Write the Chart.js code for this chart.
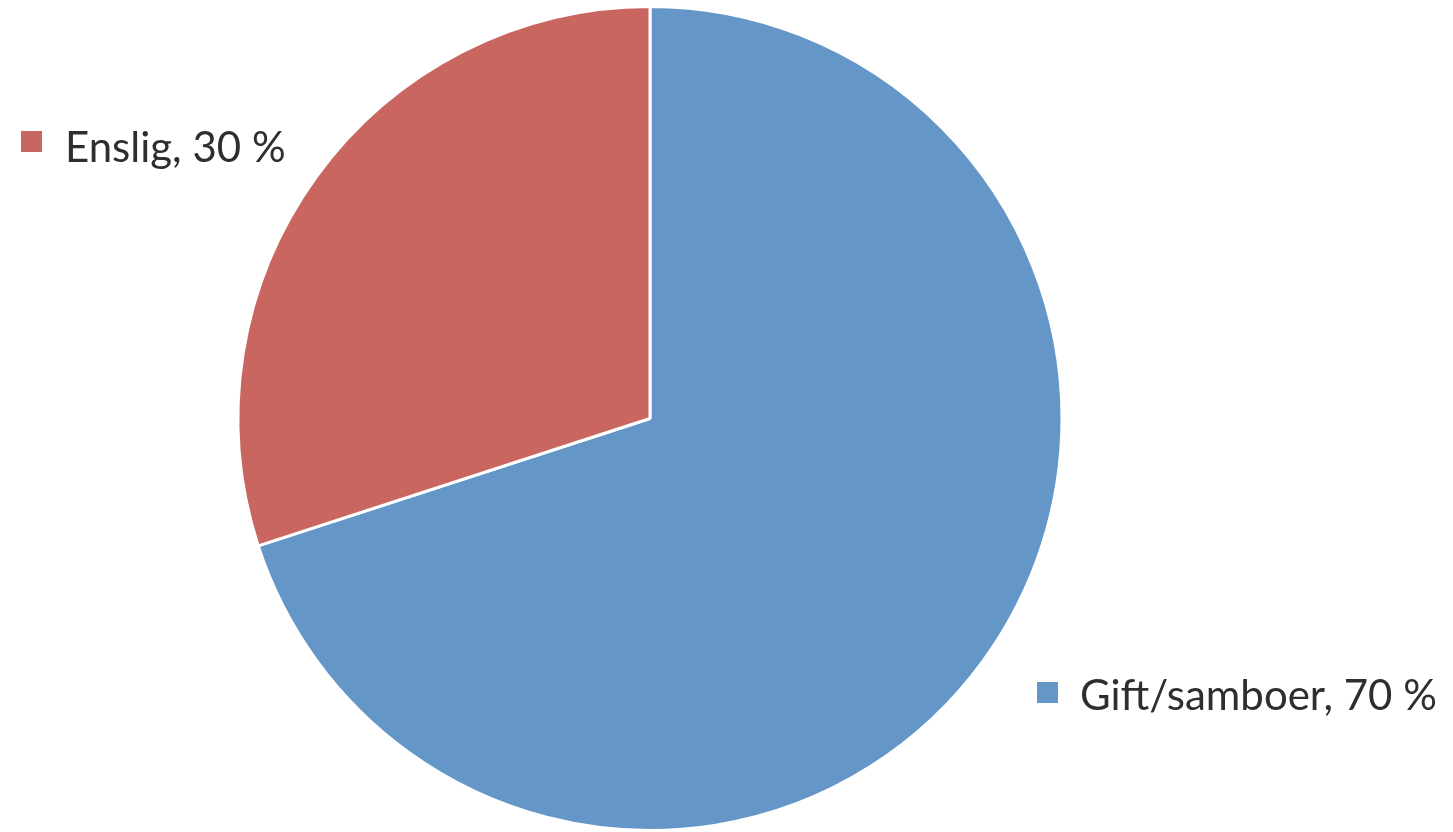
<!DOCTYPE html>
<html>
<head>
<meta charset="utf-8">
<script src="https://cdn.jsdelivr.net/npm/chart.js@4"></script>
<style>
html,body{margin:0;padding:0;background:#fff;}
#wrap{width:1453px;height:832px;position:relative;}
</style>
</head>
<body>
<div id="wrap"><canvas id="c"></canvas></div>
<script>
const categories = ["Gift/samboer", "Enslig"];
const values = [70, 30];
const labelsText = ["Gift/samboer, 70 %", "Enslig, 30 %"];
const colors = ["#6496C7", "#C96660"];

const labelPlugin = {
  id: 'outLabels',
  afterDraw(chart) {
    const ctx = chart.ctx;
    ctx.save();
    ctx.font = '42px Lato, "Open Sans", sans-serif';
    ctx.textBaseline = 'alphabetic';
    const pos = [
      {tx: 1080, ty: 710, sx: 1037, sy: 682},
      {tx: 65, ty: 162, sx: 21, sy: 131}
    ];
    labelsText.forEach((t, i) => {
      const p = pos[i];
      ctx.fillStyle = colors[i];
      ctx.fillRect(p.sx, p.sy, 21, 21);
      ctx.fillStyle = '#2e2e2e';
      ctx.fillText(t, p.tx, p.ty);
    });
    ctx.restore();
  }
};

new Chart(document.getElementById('c'), {
  type: 'pie',
  data: {
    labels: categories,
    datasets: [{
      data: values,
      backgroundColor: colors,
      borderColor: '#ffffff',
      borderWidth: 3
    }]
  },
  options: {
    responsive: true,
    maintainAspectRatio: false,
    animation: false,
    layout: {padding: {top: 5, bottom: 0, left: 0, right: 153}},
    plugins: {legend: {display: false}, tooltip: {enabled: false}}
  },
  plugins: [labelPlugin]
});
</script>
</body>
</html>
